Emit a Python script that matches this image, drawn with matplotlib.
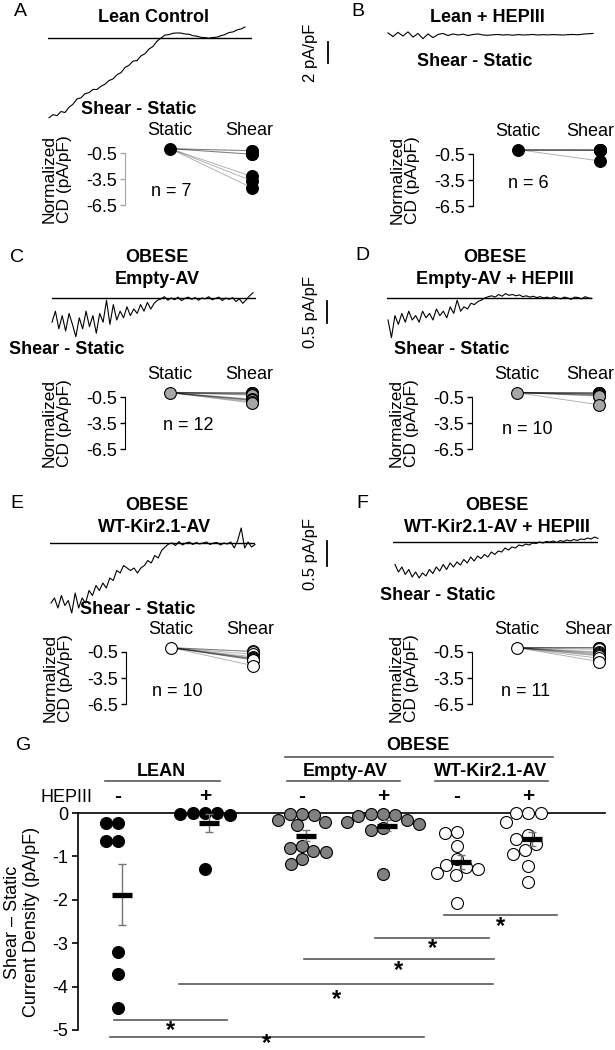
import numpy as np
import matplotlib.pyplot as plt
from matplotlib.lines import Line2D

plt.rcParams['font.family'] = ['Liberation Sans', 'DejaVu Sans']
plt.rcParams['axes.unicode_minus'] = False

W, H = 615, 1050

# shear - static current density (pA/pF), one list per group
lean_ctrl = [-0.24, -0.24, -0.64, -0.64, -3.2, -3.7, -4.5]
lean_hep = [-0.02, 0.0, -0.05, -0.01, 0.0, -1.3]
empty_ctrl = [-0.02, -0.03, -0.05, -0.15, -0.2, -0.28, -0.75, -0.8, -0.88, -0.9, -1.05, -1.18]
empty_hep = [-0.02, -0.03, -0.05, -0.08, -0.15, -0.2, -0.25, -0.35, -0.4, -1.4]
wt_ctrl = [-0.43, -0.45, -0.75, -1.05, -1.2, -1.25, -1.3, -1.38, -1.42, -2.07]
wt_hep = [-0.01, -0.01, -0.01, -0.2, -0.5, -0.6, -0.72, -0.85, -0.95, -1.22, -1.6]

groups = [lean_ctrl, lean_hep, empty_ctrl, empty_hep, wt_ctrl, wt_hep]
hep_signs = ['-', '+', '-', '+', '-', '+']
faces = ['black', 'black', '#808080', '#808080', 'white', 'white']

# example traces, shear - static (pA/pF)
trace_a = [-7.6, -7.3, -7.4, -7.0, -7.1, -6.6, -6.3, -5.8, -5.7, -5.3,
           -5.2, -4.9, -4.9, -4.6, -4.4, -4.05, -3.9, -3.5, -3.3, -2.8,
           -2.6, -2.2, -2.15, -1.7, -1.5, -1.05, -0.8, -0.3, 0.0, 0.28,
           0.32, 0.45, 0.48, 0.47, 0.38, 0.36, 0.22, 0.17, 0.06, 0.04,
           -0.02, 0.05, 0.08, 0.22, 0.33, 0.52, 0.58, 0.77, 0.86, 1.05]
trace_b = [0.2, -0.15, 0.25, -0.1, 0.3, -0.2, 0.15, -0.35, 0.1, -0.25,
           0.05, 0.15, -0.05, 0.1, 0.0, 0.08, -0.05, 0.05, 0.1, 0.0,
           -0.03, 0.02, 0.05, 0.0, 0.03, -0.02, 0.04, 0.0, 0.02, 0.05,
           0.0, 0.03, 0.01, 0.04, 0.02, 0.0, 0.03, 0.05, 0.02, 0.08, 0.12, 0.15]
trace_c = [-0.55, -0.3, -0.7, -0.4, -0.75, -0.35, -0.6, -0.88, -0.45, -0.7,
           -0.3, -0.65, -0.4, -0.8, -0.35, -0.55, -0.05, -0.6, -0.15, -0.5,
           -0.3, -0.45, -0.2, -0.4, -0.25, -0.35, -0.15, -0.3, -0.1, -0.25,
           -0.12, -0.05, -0.02, 0.03, -0.05, 0.0, -0.04, 0.02, -0.06, -0.01,
           0.02, -0.03, 0.01, -0.05, 0.0, -0.02, 0.03, -0.04, -0.01, 0.02,
           -0.06, 0.0, -0.03, 0.01, -0.08, -0.02, -0.12, -0.04, 0.05, 0.12]
trace_d = [-0.5, -0.9, -0.4, -0.6, -0.35, -0.55, -0.3, -0.5, -0.4, -0.55,
           -0.3, -0.45, -0.35, -0.5, -0.25, -0.4, -0.3, -0.45, -0.2, -0.35,
           -0.05, -0.3, -0.2, -0.25, -0.12, -0.15, -0.08, -0.05, 0.0, 0.03,
           0.05, 0.02, 0.08, 0.04, 0.1, 0.06, 0.08, 0.05, 0.07, 0.03,
           0.05, 0.02, 0.04, 0.01, 0.03, 0.0, 0.02, -0.01, 0.03, 0.0,
           -0.02, 0.02, 0.0, -0.03, 0.02, 0.01, -0.02, 0.03, 0.0, -0.01]
trace_e = [-1.2, -1.1, -1.3, -1.05, -1.25, -1.15, -1.4, -1.0, -1.3, -1.1,
           -1.2, -0.95, -1.05, -0.85, -0.95, -0.8, -0.9, -0.7, -0.75, -0.55,
           -0.6, -0.45, -0.5, -0.55, -0.5, -0.6, -0.5, -0.45, -0.35, -0.4,
           -0.25, -0.3, -0.15, -0.08, -0.02, 0.0, -0.05, 0.03, -0.04, 0.0,
           0.02, -0.03, 0.01, -0.02, 0.0, 0.02, -0.03, 0.0, 0.01, -0.04,
           0.0, -0.02, 0.02, -0.1, 0.05, 0.3, -0.1, 0.02, -0.08, -0.03]
trace_f = [-0.45, -0.6, -0.5, -0.65, -0.55, -0.7, -0.6, -0.72, -0.62, -0.68,
           -0.55, -0.63, -0.5, -0.58, -0.45, -0.55, -0.42, -0.5, -0.4, -0.46,
           -0.35, -0.42, -0.3, -0.38, -0.28, -0.33, -0.25, -0.3, -0.2, -0.25,
           -0.18, -0.2, -0.12, -0.16, -0.1, -0.12, -0.06, -0.08, -0.04, -0.06,
           -0.02, -0.03, 0.0, -0.02, 0.01, 0.0, 0.02, -0.01, 0.03, 0.01,
           0.04, 0.02, 0.05, 0.03, 0.06, 0.05, 0.08, 0.06, 0.1, 0.07]

fig = plt.figure(figsize=(W / 100, H / 100), dpi=100)


def box(x0, y0, x1, y1):
    # pixel box, origin top-left
    return fig.add_axes([x0 / W, 1 - y1 / H, (x1 - x0) / W, (y1 - y0) / H])


def put(x, y, s, **kw):
    kw.setdefault('ha', 'center')
    kw.setdefault('va', 'center')
    kw.setdefault('fontsize', 13)
    fig.text(x / W, 1 - y / H, s, **kw)


def fig_line(x0, x1, y, color='0.35', lw=1.2):
    fig.add_artist(Line2D([x0 / W, x1 / W], [1 - y / H, 1 - y / H], color=color, lw=lw))


def draw_trace(vals, x0, x1, tx0, tx1, ybase, ppu, baseline=True):
    ax = box(x0, ybase - 30, x1, ybase + 90)
    n = len(vals)
    step = (tx1 - tx0) / (n - 1)
    ax.set_xlim(-(tx0 - x0) / step, n - 1 + (x1 - tx1) / step)
    ax.set_ylim(-90 / ppu, 30 / ppu)
    ax.axis('off')
    if baseline:
        ax.axhline(0, color='k', lw=1.0)
    ax.plot(np.arange(n), vals, color='k', lw=0.8, clip_on=False)


def scalebar(x, ybot, ppu, value, label):
    ax = box(x - 5, ybot - value * ppu, x + 5, ybot)
    ax.set_xlim(-1, 1)
    ax.set_ylim(0, value)
    ax.axis('off')
    ax.plot([0, 0], [0, value], color='k', lw=1.3, clip_on=False)
    put(x - 17, ybot - value * ppu / 2, label, rotation=90, fontsize=12)


STATIC_X, SHEAR_X = 45, 127
PP = 8.7


def draw_pairs(vals, spine_x, y_m05, face, n_xy, axis_color='k', shear_lbl=124):
    y0 = y_m05 - 0.5 * PP
    ax = box(spine_x, y0 - 1.0 * PP, spine_x + 140, y0 + 7.0 * PP)
    ax.set_xlim(0, 140)
    ax.set_ylim(-7.0, 1.0)
    for v in vals:
        ax.plot([STATIC_X, SHEAR_X], [0, v], color='k', lw=0.7, alpha=0.3)
    ax.plot([STATIC_X], [0], 'o', ms=8.5, mfc=face, mec='k', mew=0.8, clip_on=False)
    ax.plot([SHEAR_X] * len(vals), vals, 'o', ms=8.5, mfc=face, mec='k', mew=0.8,
            clip_on=False)
    for s in ['top', 'right', 'bottom']:
        ax.spines[s].set_visible(False)
    ax.spines['left'].set_bounds(-6.5, -0.5)
    ax.spines['left'].set_color(axis_color)
    ax.set_xticks([])
    ax.set_yticks([-0.5, -3.5, -6.5])
    ax.set_yticklabels(['-0.5', '-3.5', '-6.5'])
    ax.tick_params(axis='y', length=3.5, width=1, color=axis_color,
                   labelcolor='k', labelsize=13, pad=2)
    ax.patch.set_visible(False)
    put(spine_x + 45, y0 - 18, 'Static')
    put(spine_x + shear_lbl, y0 - 18, 'Shear')
    put(spine_x - 68, y0 + 30, 'Normalized\nCD (pA/pF)', rotation=90,
        fontsize=12.5, linespacing=1.0)
    put(n_xy[0], n_xy[1], 'n = %d' % len(vals))


# ---------------- panels A-F ----------------
bold = dict(fontweight='bold')

put(20, 11, 'A', fontsize=14)
put(153, 17, 'Lean Control', **bold)
draw_trace(trace_a, 48, 252, 49, 245, 38, 10.5)
put(139, 110, 'Shear - Static', **bold)
scalebar(328, 63, 10.5, 2, '2 pA/pF')
draw_pairs(lean_ctrl, 125, 153, 'black', (171, 192), axis_color='#a6a6a6')

put(358, 12, 'B', fontsize=14)
put(487, 17, 'Lean + HEPIII', **bold)
draw_trace(trace_b, 388, 593, 388, 593, 35, 10.5, baseline=False)
put(475, 62, 'Shear - Static', **bold)
draw_pairs(lean_hep, 473, 154, 'black', (528, 183), shear_lbl=117)

put(17, 257, 'C', fontsize=14)
put(157, 257, 'OBESE', **bold)
put(157, 279, 'Empty-AV', **bold)
draw_trace(trace_c, 52, 256, 52, 253, 298, 44)
put(67, 349, 'Shear - Static', **bold)
scalebar(327, 323, 44, 0.5, '0.5 pA/pF')
draw_pairs(empty_ctrl, 125, 397, '#a6a6a6', (188, 425))

put(362, 255, 'D', fontsize=14)
put(495, 257, 'OBESE', **bold)
put(495, 279, 'Empty-AV + HEPIII', **bold)
draw_trace(trace_d, 387, 592, 388, 592, 298, 44)
put(452, 349, 'Shear - Static', **bold)
draw_pairs(empty_hep, 472, 397, '#a6a6a6', (527, 430), shear_lbl=118)

put(17, 503, 'E', fontsize=14)
put(157, 506, 'OBESE', **bold)
put(155, 528, 'WT-Kir2.1-AV', **bold)
draw_trace(trace_e, 50, 255, 51, 255, 543, 50)
put(138, 609, 'Shear - Static', **bold)
scalebar(327, 566, 50, 0.5, '0.5 pA/pF')
draw_pairs(wt_ctrl, 126, 652, 'white', (177, 692))

put(362, 503, 'F', fontsize=14)
put(497, 506, 'OBESE', **bold)
put(497, 528, 'WT-Kir2.1-AV + HEPIII', **bold)
draw_trace(trace_f, 393, 598, 395, 598, 542, 50)
put(438, 595, 'Shear - Static', **bold)
draw_pairs(wt_hep, 472, 652, 'white', (526, 692), shear_lbl=116)

# ---------------- panel G ----------------
GX0, GX1, GY0, GPPU, YLO = 78, 605, 813, 43.4, -5.4
positions = [40, 127, 224, 305, 379, 450]


def swarm(vals, d=12.5, ppu=GPPU):
    vals = np.asarray(vals, dtype=float)
    offs = np.zeros(len(vals))
    placed = []
    for i in np.argsort(vals)[::-1]:
        y = vals[i] * ppu
        cands = [0.0]
        for px, py in placed:
            dy = abs(py - y)
            if dy < d:
                dx = np.sqrt(d * d - dy * dy)
                cands += [px - dx, px + dx]
        cands.sort(key=abs)
        for c in cands:
            if all((c - px) ** 2 + (y - py) ** 2 >= d * d - 1e-6 for px, py in placed):
                offs[i] = c
                placed.append((c, y))
                break
    return offs


axg = box(GX0, GY0, GX1, GY0 - YLO * GPPU)
axg.set_xlim(0, GX1 - GX0)
axg.set_ylim(YLO, 0)
axg.patch.set_visible(False)
for pos, vals, fc in zip(positions, groups, faces):
    offs = swarm(vals)
    axg.plot(pos + offs, vals, 'o', ms=8.6, mfc=fc, mec='k', mew=0.8,
             clip_on=False, zorder=3)
    m = np.mean(vals)
    sem = np.std(vals, ddof=1) / np.sqrt(len(vals))
    axg.errorbar(pos + 4, m, yerr=sem, fmt='none', ecolor='0.45', elinewidth=1,
                 capsize=3, capthick=1, zorder=4)
    axg.plot([pos + 4], [m], marker='_', ms=14.5, mew=3.8, color='k', zorder=5)

axg.spines['right'].set_visible(False)
axg.spines['bottom'].set_visible(False)
axg.spines['top'].set_linewidth(1.2)
axg.spines['left'].set_linewidth(1.2)
axg.spines['left'].set_bounds(-5, 0)
axg.set_xticks([])
axg.set_yticks([0, -1, -2, -3, -4, -5])
axg.set_yticklabels(['0', '-1', '-2', '-3', '-4', '-5'])
axg.tick_params(axis='y', length=4, width=1.2, labelsize=13, pad=3)

# significance bars: x extent (px) and level (pA/pF)
sig_bars = [(444, 557, -2.35), (375, 489, -2.88), (304, 494, -3.36),
            (179, 493, -3.95), (114, 227, -4.78), (110, 424, -5.17)]
star_levels = [-2.62, -3.12, -3.62, -4.3, -5.02, -5.32]
for (x0, x1, yv), ys in zip(sig_bars, star_levels):
    axg.plot([x0 - GX0, x1 - GX0], [yv, yv], color='0.35', lw=1.2, clip_on=False)
    axg.text((x0 + x1) / 2 - GX0, ys, '*', ha='center', va='center',
             fontsize=17, fontweight='bold', clip_on=False)

put(24, 745, 'G', fontsize=14)
put(92, 797, 'HEPIII', ha='right')
for pos, s in zip(positions, hep_signs):
    put(pos + GX0, 796, s, fontsize=15, fontweight='bold')
put(161, 771, 'LEAN', **bold)
fig_line(105, 220, 781)
put(345, 771, 'Empty-AV', **bold)
fig_line(287, 400, 781)
put(491, 771, 'WT-Kir2.1-AV', **bold)
fig_line(435, 548, 781)
put(418, 746, 'OBESE', **bold)
fig_line(285, 553, 757)
put(22, 922, 'Shear \u2013 Static\nCurrent Density (pA/pF)', rotation=90,
    linespacing=1.1)

fig.savefig('out.png', dpi=100, facecolor='white')
